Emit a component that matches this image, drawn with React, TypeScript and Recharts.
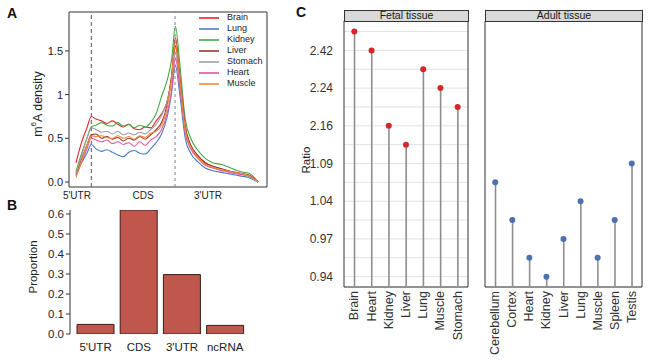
import React from 'react';
import {
  LineChart, Line, XAxis, YAxis, ReferenceLine, ReferenceArea, Legend,
  BarChart, Bar, ComposedChart, CartesianGrid,
} from 'recharts';

const FONT = '"Liberation Sans", Arial, Helvetica, sans-serif';

// ---------- Panel A: metagene m6A density ----------
const metaPos = [0, 3, 6, 8.4, 11, 14, 17, 20, 23, 26, 29, 32, 35, 38, 41, 44, 47, 50, 52.5, 54.6, 57, 60, 63, 67, 71, 75, 80, 85, 90, 95, 100];
const brain = [0.22, 0.45, 0.62, 0.75, 0.72, 0.70, 0.67, 0.70, 0.66, 0.63, 0.66, 0.61, 0.60, 0.63, 0.62, 0.70, 0.78, 0.92, 1.2, 1.56, 1.15, 0.62, 0.42, 0.30, 0.22, 0.18, 0.15, 0.12, 0.10, 0.07, 0.0];
const lung = [0.1, 0.22, 0.33, 0.43, 0.38, 0.35, 0.37, 0.34, 0.31, 0.29, 0.34, 0.36, 0.33, 0.32, 0.38, 0.45, 0.55, 0.74, 1.02, 1.33, 1.0, 0.5, 0.33, 0.23, 0.16, 0.13, 0.11, 0.09, 0.07, 0.05, 0.0];
const kidney = [0.12, 0.32, 0.5, 0.63, 0.65, 0.68, 0.65, 0.64, 0.68, 0.64, 0.66, 0.62, 0.65, 0.63, 0.68, 0.78, 0.98, 1.16, 1.4, 1.78, 1.35, 0.72, 0.5, 0.36, 0.27, 0.22, 0.2, 0.16, 0.12, 0.1, 0.0];
const liver = [0.08, 0.26, 0.42, 0.54, 0.55, 0.5, 0.52, 0.49, 0.51, 0.47, 0.5, 0.48, 0.52, 0.49, 0.54, 0.6, 0.68, 0.88, 1.22, 1.65, 1.22, 0.64, 0.42, 0.3, 0.22, 0.18, 0.15, 0.12, 0.1, 0.08, 0.0];
const stomach = [0.1, 0.3, 0.5, 0.62, 0.6, 0.57, 0.58, 0.55, 0.58, 0.54, 0.56, 0.54, 0.57, 0.55, 0.6, 0.66, 0.76, 0.92, 1.15, 1.48, 1.1, 0.58, 0.4, 0.28, 0.2, 0.17, 0.14, 0.11, 0.09, 0.07, 0.0];
const heart = [0.07, 0.22, 0.38, 0.5, 0.48, 0.46, 0.48, 0.44, 0.46, 0.43, 0.45, 0.41, 0.46, 0.42, 0.48, 0.52, 0.6, 0.78, 1.05, 1.42, 1.08, 0.56, 0.38, 0.27, 0.19, 0.16, 0.13, 0.11, 0.09, 0.07, 0.0];
const muscle = [0.05, 0.24, 0.42, 0.53, 0.52, 0.53, 0.51, 0.5, 0.53, 0.5, 0.52, 0.49, 0.53, 0.51, 0.56, 0.58, 0.65, 0.84, 1.18, 1.6, 1.18, 0.6, 0.4, 0.28, 0.2, 0.17, 0.14, 0.12, 0.1, 0.07, 0.0];
const seriesNames = ['Brain', 'Lung', 'Kidney', 'Liver', 'Stomach', 'Heart', 'Muscle'];
const seriesValues = [brain, lung, kidney, liver, stomach, heart, muscle];
const seriesColors = ['#e0262b', '#4a7cc4', '#45a845', '#943a2c', '#a0a0a0', '#e5559f', '#f08a3a'];
const regionTickPos = [0.5, 36.8, 72.5];
const regionLabels = ["5'UTR", 'CDS', "3'UTR"];
const regionBounds = [8.4, 54.4];
const densityTicks = [0, 0.5, 1, 1.5];
const densityTickLabels = ['0.0', '0.5', '1', '1.5'];
const xDomA = [-3.85, 104.9];
const yDomA = [-0.057, 1.945];

const aData = metaPos.map((x, i) => {
  const row: any = { x };
  seriesNames.forEach((n, k) => { row[n] = seriesValues[k][i]; });
  return row;
});

// ---------- Panel B: proportion ----------
const bRegions = ["5'UTR", 'CDS', "3'UTR", 'ncRNA'];
const bValues = [0.048, 0.62, 0.297, 0.043];
const bTicks = [0, 0.1, 0.2, 0.3, 0.4, 0.5, 0.6];
const bData = bRegions.map((r, i) => ({ region: r, value: bValues[i] }));

// ---------- Panel C: ratio lollipops ----------
const ratioTicks = [0.94, 0.97, 1.04, 1.09, 2.16, 2.24, 2.42];
const fetalTissues = ['Brain', 'Heart', 'Kidney', 'Liver', 'Lung', 'Muscle', 'Stomach'];
const fetalRatio = [2.51, 2.42, 2.16, 1.62, 2.33, 2.24, 2.20];
const adultTissues = ['Cerebellum', 'Cortex', 'Heart', 'Kidney', 'Liver', 'Lung', 'Muscle', 'Spleen', 'Testis'];
const adultRatio = [1.065, 1.005, 0.955, 0.94, 0.97, 1.04, 0.955, 1.005, 1.09];
const yDomC = [-0.55, 13.56];

function ratioPos(r: number) {
  const t = ratioTicks;
  for (let i = 0; i < t.length - 1; i++) {
    if (r <= t[i + 1]) return 2 * i + (2 * (r - t[i])) / (t[i + 1] - t[i]);
  }
  const n = t.length - 1;
  return 2 * n + (2 * (r - t[n])) / (t[n] - t[n - 1]);
}
const gridIdx = Array.from({ length: ratioTicks.length * 2 }, (_, i) => i);

const RotTick = (props: any) => {
  const { x, y, payload, names } = props;
  return (
    <text x={x} y={y} transform={`rotate(-90 ${x} ${y})`} textAnchor="end" dominantBaseline="central"
      fontSize={12.5} fill="#333" fontFamily={FONT}>
      {names[payload.value]}
    </text>
  );
};

function Facet({ names, ratios, color, width, yAxisWidth, showY, marginRight }: any) {
  const data = names.map((name: string, i: number) => ({ i, name, pos: ratioPos(ratios[i]) }));
  const xDom = [-0.6, names.length - 0.4];
  return (
    <ComposedChart width={width} height={360} data={data} margin={{ top: 21, right: marginRight, bottom: 0, left: 0 }}>
      <CartesianGrid vertical={false} stroke="#e2e2e2" strokeWidth={1} />
      <XAxis type="number" dataKey="i" domain={xDom} allowDataOverflow ticks={data.map((d: any) => d.i)} interval={0}
        tick={(p: any) => <RotTick {...p} names={names} />} tickLine={false} axisLine={false} height={73} tickSize={0} tickMargin={4} />
      <YAxis type="number" domain={yDomC} allowDataOverflow ticks={gridIdx} interval={0} width={yAxisWidth}
        tick={showY ? { fontSize: 12, fill: '#333', fontFamily: FONT } : false}
        tickFormatter={(v: number) => (v % 2 === 0 ? ratioTicks[v / 2].toFixed(2) : '')}
        tickLine={false} axisLine={false} tickMargin={5} />
      <Bar dataKey={(d: any) => [yDomC[0], d.pos]} barSize={1.6} fill="#8e8e8e" isAnimationActive={false} />
      <Line dataKey="pos" stroke="none" dot={{ r: 3, fill: color, stroke: 'none' }} isAnimationActive={false} />
      <ReferenceArea x1={xDom[0]} x2={xDom[1]} y1={yDomC[0]} y2={yDomC[1]} fill="none" stroke="#333" strokeWidth={1} ifOverflow="visible" />
    </ComposedChart>
  );
}

const LegendContent = (props: any) => {
  const payload = [...(props.payload || [])].sort(
    (a: any, b: any) => seriesNames.indexOf(a.value) - seriesNames.indexOf(b.value));
  return (
    <div style={{ fontFamily: FONT, fontSize: 9, color: '#222' }}>
      {payload.map((p: any) => (
        <div key={p.value} style={{ display: 'flex', alignItems: 'center', height: 11 }}>
          <svg width={20} height={4} style={{ display: 'block' }}>
            <line x1={0} y1={2} x2={20} y2={2} stroke={p.color} strokeWidth={1.6} />
          </svg>
          <span style={{ marginLeft: 8, lineHeight: '11px' }}>{p.value}</span>
        </div>
      ))}
    </div>
  );
};

export default function App() {
  const abs = (left: number, top: number): React.CSSProperties => ({ position: 'absolute', left, top });
  return (
    <div style={{ position: 'absolute', left: 0, top: 0, width: 650, height: 360, background: '#fff', fontFamily: FONT, overflow: 'hidden' }}>
      {/* Panel A */}
      <div style={abs(0, 0)}>
        <LineChart width={290} height={210} data={aData} margin={{ top: 12, right: 23, bottom: 0, left: 0 }}>
          <XAxis type="number" dataKey="x" domain={xDomA} allowDataOverflow ticks={regionTickPos} interval={0}
            tickFormatter={(v: number) => regionLabels[regionTickPos.indexOf(v)]}
            axisLine={false} tickLine={false} tickSize={0} tickMargin={5} height={23}
            tick={{ fontSize: 10, fill: '#222', fontFamily: FONT }} />
          <YAxis type="number" domain={yDomA} allowDataOverflow ticks={densityTicks} interval={0} width={69}
            tickFormatter={(v: number) => densityTickLabels[densityTicks.indexOf(v)]}
            axisLine={false} tickLine={{ stroke: '#333' }} tickSize={4} tickMargin={2}
            tick={{ fontSize: 11, fill: '#222', fontFamily: FONT }} />
          <ReferenceLine x={regionBounds[0]} stroke="#555" strokeDasharray="4 3" />
          <ReferenceLine x={regionBounds[1]} stroke="#8080a0" strokeDasharray="3 3" />
          {seriesNames.map((n, k) => (
            <Line key={n} name={n} dataKey={n} type="monotone" stroke={seriesColors[k]} strokeWidth={1.1} dot={false} isAnimationActive={false} />
          ))}
          <ReferenceArea x1={xDomA[0]} x2={xDomA[1]} y1={yDomA[0]} y2={yDomA[1]} fill="none" stroke="#333" strokeWidth={1} ifOverflow="visible" />
          <Legend layout="vertical" align="center" verticalAlign="middle" content={<LegendContent />}
            wrapperStyle={{ top: 12, left: 199, width: 'auto' }} />
        </LineChart>
      </div>

      {/* Panel B */}
      <div style={abs(0, 200)}>
        <BarChart width={290} height={160} data={bData} margin={{ top: 10, right: 43.2, bottom: 0, left: 0 }}>
          <XAxis dataKey="region" type="category" padding={{ left: 4, right: 0 }} axisLine={false} tickLine={false}
            tickMargin={3} height={26} interval={0} tick={{ fontSize: 11.5, fill: '#222', fontFamily: FONT }} />
          <YAxis type="number" domain={[0, 0.62]} allowDataOverflow ticks={bTicks} interval={0} width={70}
            tickFormatter={(v: number) => v.toFixed(1)} axisLine={{ stroke: '#333' }} tickLine={{ stroke: '#333' }}
            tickSize={4} tickMargin={2} tick={{ fontSize: 11.5, fill: '#222', fontFamily: FONT }} />
          <Bar dataKey="value" fill="#c0574d" stroke="#3a1c19" strokeWidth={1} barSize={37} isAnimationActive={false} />
        </BarChart>
      </div>

      {/* Panel C */}
      <div style={abs(290, 0)}>
        <Facet names={fetalTissues} ratios={fetalRatio} color="#d7262b" width={182} yAxisWidth={54} showY marginRight={4} />
      </div>
      <div style={abs(472, 0)}>
        <Facet names={adultTissues} ratios={adultRatio} color="#4a72b0" width={178} yAxisWidth={13} showY={false} marginRight={8} />
      </div>

      {/* facet strips */}
      <div style={{ ...abs(344, 10), width: 125, height: 12, boxSizing: 'border-box', border: '1px solid #333', background: '#d9d9d9', fontSize: 10.5, lineHeight: '9px', textAlign: 'center', color: '#1a1a1a' }}>Fetal tissue</div>
      <div style={{ ...abs(485, 10), width: 158, height: 12, boxSizing: 'border-box', border: '1px solid #333', background: '#d9d9d9', fontSize: 10.5, lineHeight: '9px', textAlign: 'center', color: '#1a1a1a' }}>Adult tissue</div>

      {/* titles */}
      <svg width={650} height={360} style={{ position: 'absolute', left: 0, top: 0, pointerEvents: 'none' }} fontFamily={FONT}>
        <text x={7} y={18} fontSize={14} fontWeight="bold" fill="#111">A</text>
        <text x={7} y={210} fontSize={14} fontWeight="bold" fill="#111">B</text>
        <text x={296} y={17} fontSize={14} fontWeight="bold" fill="#111">C</text>
        <text x={38} y={104} transform="rotate(-90 38 104)" textAnchor="middle" dominantBaseline="central" fontSize={12.5} fill="#222">
          m<tspan dy={-5} fontSize={8}>6</tspan><tspan dy={5}>A density</tspan>
        </text>
        <text x={33} y={267} transform="rotate(-90 33 267)" textAnchor="middle" dominantBaseline="central" fontSize={11.5} fill="#222">Proportion</text>
        <text x={306} y={160} transform="rotate(-90 306 160)" textAnchor="middle" dominantBaseline="central" fontSize={11.5} fill="#222">Ratio</text>
      </svg>
    </div>
  );
}
